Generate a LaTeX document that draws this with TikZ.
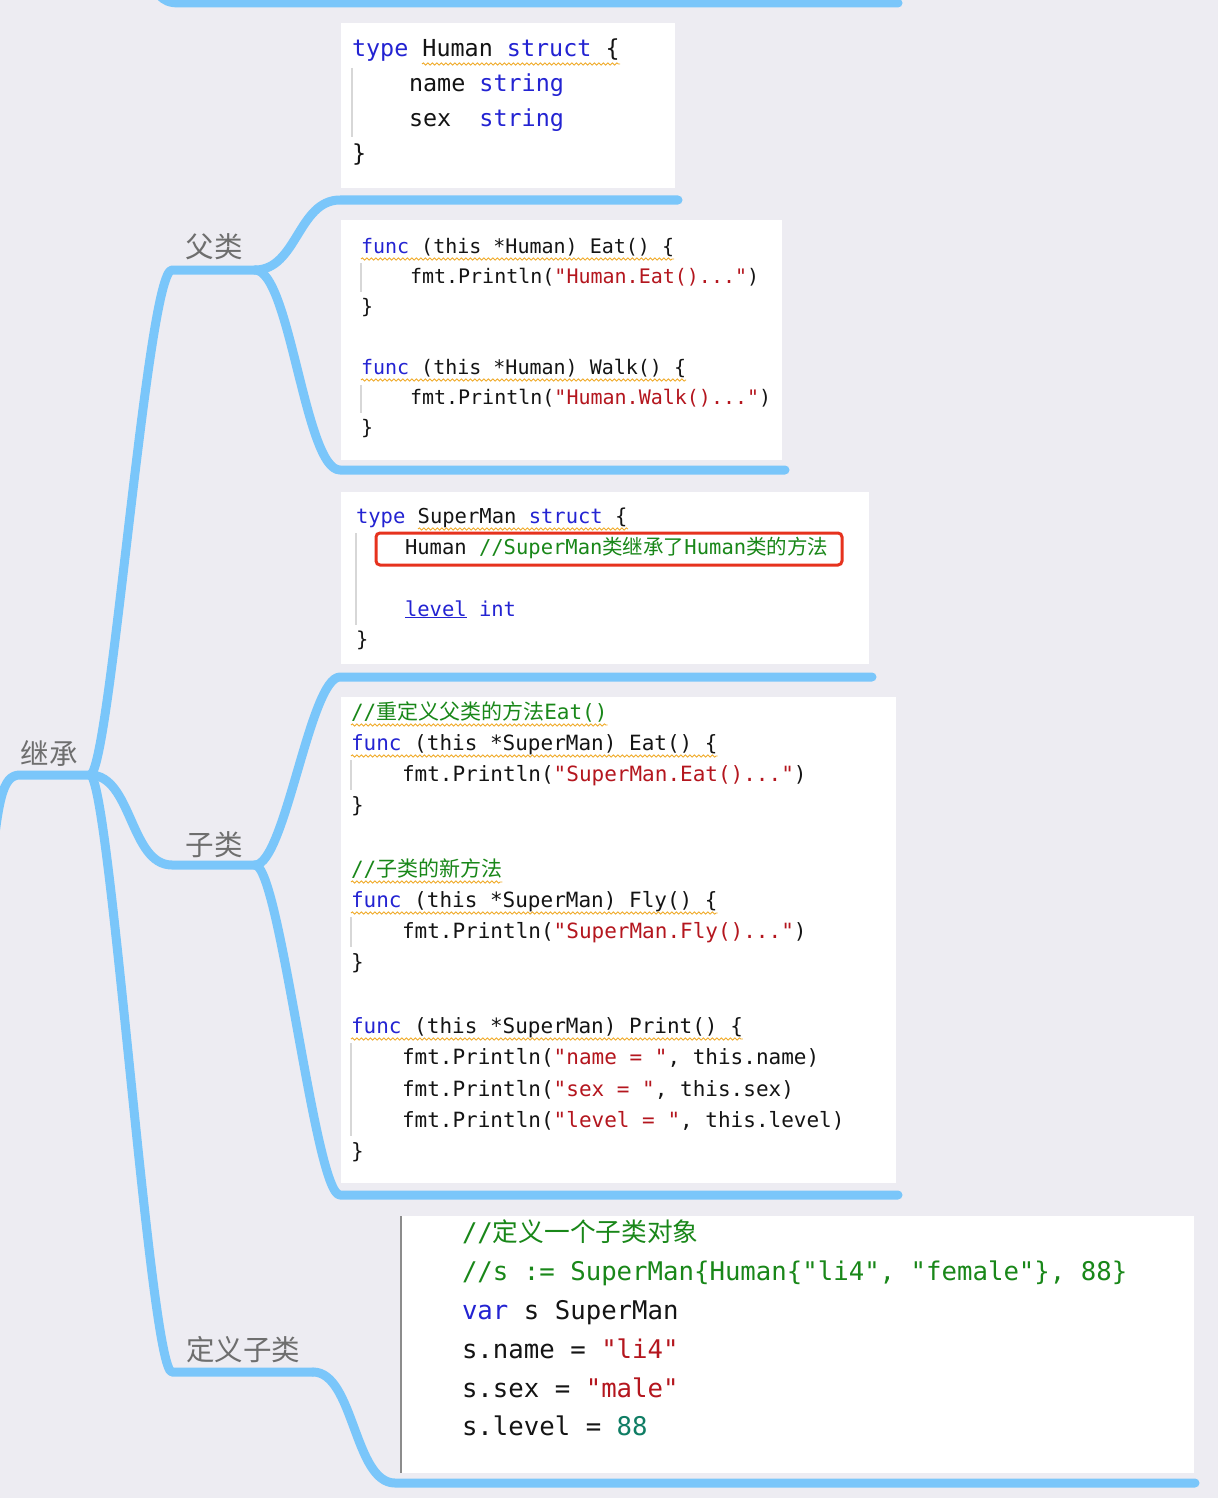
\documentclass[tikz,border=0pt]{standalone}
\usepackage{fontspec}
\usetikzlibrary{calc,decorations.pathmorphing}
\newfontfamily\mono{DejaVu Sans Mono}
\newfontfamily\cjk{Noto Sans CJK SC}
\definecolor{bg}{RGB}{237,236,242}
\definecolor{br}{RGB}{122,198,250}
\definecolor{kwc}{RGB}{35,35,210}
\definecolor{stc}{RGB}{180,22,30}
\definecolor{cmc}{RGB}{25,135,25}
\definecolor{nmc}{RGB}{15,125,100}
\definecolor{txt}{RGB}{20,20,20}
\definecolor{labc}{RGB}{110,110,110}
\definecolor{wav}{RGB}{240,170,40}
\definecolor{guide}{RGB}{215,215,215}
\definecolor{guidedark}{RGB}{140,140,140}
\definecolor{redb}{RGB}{230,50,30}
\newcommand\gokw[1]{\textcolor{kwc}{#1}}
\newcommand\gostr[1]{\textcolor{stc}{#1}}
\newcommand\gocm[1]{\textcolor{cmc}{#1}}
\newcommand\gonum[1]{\textcolor{nmc}{#1}}
\tikzset{
  branch/.style={draw=br, line width=9pt, line cap=round, line join=round},
  codebox/.style={fill=white},
  code/.style={anchor=base west, inner sep=0pt, outer sep=0pt, text=txt},
  fa/.style={code, font=\mono\fontsize{23.4}{28}\selectfont\frenchspacing},
  fb/.style={code, font=\mono\fontsize{20}{24}\selectfont\frenchspacing},
  fc/.style={code, font=\mono\fontsize{20.5}{24}\selectfont\frenchspacing},
  fd/.style={code, font=\mono\fontsize{21}{25}\selectfont\frenchspacing},
  fe/.style={code, font=\mono\fontsize{25.7}{30}\selectfont\frenchspacing},
  wavy/.style={draw=wav, line width=0.9pt, decorate, decoration={snake, amplitude=1.1pt, segment length=4.5pt}},
  guideline/.style={draw=guide, line width=1.2pt},
  lab/.style={text=labc, font=\cjk\fontsize{28.5}{31}\selectfont, inner sep=0pt},
}
\begin{document}
\begin{tikzpicture}[x=1pt,y=-1pt]
\useasboundingbox (0,0) rectangle (1218,1498);
\clip (0,0) rectangle (1218,1498);
\fill[bg] (0,0) rectangle (1218,1498);

% ---------- branch coordinates ----------
\coordinate (t0) at (150,-40);
\coordinate (tA) at (180,3);
\coordinate (tB) at (898,3);
\coordinate (r0) at (-10,880);
\coordinate (rA) at (20,775);
\coordinate (root) at (90,775);
\coordinate (fuA) at (172,270);
\coordinate (fuB) at (255,270);
\coordinate (ziA) at (172,865);
\coordinate (ziB) at (255,865);
\coordinate (dyA) at (172,1372);
\coordinate (dyB) at (313,1372);
\coordinate (h1A) at (340,200);
\coordinate (h1B) at (678,200);
\coordinate (h2A) at (340,470);
\coordinate (h2B) at (785,470);
\coordinate (s1A) at (340,677);
\coordinate (s1B) at (872,677);
\coordinate (s2A) at (340,1195);
\coordinate (s2B) at (898,1195);
\coordinate (d1A) at (395,1483);
\coordinate (d1B) at (1195,1483);

% ---------- branches ----------
\draw[branch] (t0) .. controls (155,-5) and (160,3) .. (tA) -- (tB);
\draw[branch] (r0) .. controls (-2,800) and (2,775) .. (rA) -- (root);
\draw[branch] (root) .. controls ($(root)+(20,0)$) and ($(fuA)+(-25,0)$) .. (fuA) -- (fuB);
\draw[branch] (root) .. controls ($(root)+(42,0)$) and ($(ziA)+(-42,0)$) .. (ziA) -- (ziB);
\draw[branch] (root) .. controls ($(root)+(20,0)$) and ($(dyA)+(-22,0)$) .. (dyA) -- (dyB);
\draw[branch] (fuB) .. controls ($(fuB)+(42,0)$) and ($(h1A)+(-42,0)$) .. (h1A) -- (h1B);
\draw[branch] (fuB) .. controls ($(fuB)+(35,0)$) and ($(h2A)+(-35,0)$) .. (h2A) -- (h2B);
\draw[branch] (ziB) .. controls ($(ziB)+(30,0)$) and ($(s1A)+(-30,0)$) .. (s1A) -- (s1B);
\draw[branch] (ziB) .. controls ($(ziB)+(25,0)$) and ($(s2A)+(-25,0)$) .. (s2A) -- (s2B);
\draw[branch] (dyB) .. controls ($(dyB)+(41,0)$) and ($(d1A)+(-41,0)$) .. (d1A) -- (d1B);

% ---------- labels ----------
\node[lab] (jicheng) at (49,753) {继承};
\node[lab] (fulei) at (214,247) {父类};
\node[lab] (zilei) at (214,845) {子类};
\node[lab] (dingyi) at (243,1350) {定义子类};

% ---------- boxes ----------
\fill[codebox] (341,23) rectangle (675,188);
\fill[codebox] (341,220) rectangle (782,460);
\fill[codebox] (341,492) rectangle (869,664);
\fill[codebox] (341,697) rectangle (896,1183);
\fill[codebox] (401,1216) rectangle (1194,1473);

% ---------- indent guides ----------
\draw[guideline] (352,68) -- (352,137);
\draw[guideline] (361,263) -- (361,292);
\draw[guideline] (361,385) -- (361,413);
\draw[guideline] (356,533) -- (356,625);
\draw[guideline] (351,760) -- (351,790);
\draw[guideline] (351,917) -- (351,947);
\draw[guideline] (351,1043) -- (351,1136);
\draw[draw=guidedark, line width=1.5pt] (401,1216) -- (401,1473);

% ---------- box 1 ----------
\node[fa] (b1a) at (352,57) {\gokw{type} Human \gokw{struct} \{};
\node[fa] (b1b) at (409,92) {name \gokw{string}};
\node[fa] (b1c) at (409,127) {sex\ \ \gokw{string}};
\node[fa] (b1d) at (352,162) {\}};
\draw[wavy] (422,64) -- (620,64);

% ---------- box 2 ----------
\node[fb] (b2a) at (361,253) {\gokw{func} (this *Human) Eat() \{};
\node[fb] (b2b) at (410,283) {fmt.Println(\gostr{"Human.Eat()..."})};
\node[fb] (b2c) at (361,313) {\}};
\node[fb] (b2d) at (361,374) {\gokw{func} (this *Human) Walk() \{};
\node[fb] (b2e) at (410,404) {fmt.Println(\gostr{"Human.Walk()..."})};
\node[fb] (b2f) at (361,434) {\}};
\draw[wavy] ($(b2a.base west)+(0,6)$) -- ($(b2a.base east)+(0,6)$);
\draw[wavy] ($(b2d.base west)+(0,6)$) -- ($(b2d.base east)+(0,6)$);

% ---------- box 3 ----------
\node[fc] (b3a) at (356,523) {\gokw{type} SuperMan \gokw{struct} \{};
\node[fc] (b3b) at (405,554) {Human \gocm{//SuperMan{\cjk 类继承了}Human{\cjk 类的方法}}};
\node[fc] (b3c) at (405,616) {\gokw{\underline{level}} \gokw{int}};
\node[fc] (b3d) at (356,646) {\}};
\draw[wavy] (418,529) -- (628,529);
\draw[draw=redb, line width=3pt, rounded corners=4pt] (376,533) rectangle (842,565);

% ---------- box 4 ----------
\node[fd] (b4a) at (351,719) {\gocm{//{\cjk 重定义父类的方法}Eat()}};
\node[fd] (b4b) at (351,750) {\gokw{func} (this *SuperMan) Eat() \{};
\node[fd] (b4c) at (402,781) {fmt.Println(\gostr{"SuperMan.Eat()..."})};
\node[fd] (b4d) at (351,812) {\}};
\node[fd] (b4e) at (351,876) {\gocm{//{\cjk 子类的新方法}}};
\node[fd] (b4f) at (351,907) {\gokw{func} (this *SuperMan) Fly() \{};
\node[fd] (b4g) at (402,938) {fmt.Println(\gostr{"SuperMan.Fly()..."})};
\node[fd] (b4h) at (351,969) {\}};
\node[fd] (b4i) at (351,1033) {\gokw{func} (this *SuperMan) Print() \{};
\node[fd] (b4j) at (402,1064) {fmt.Println(\gostr{"name = "}, this.name)};
\node[fd] (b4k) at (402,1096) {fmt.Println(\gostr{"sex = "}, this.sex)};
\node[fd] (b4l) at (402,1127) {fmt.Println(\gostr{"level = "}, this.level)};
\node[fd] (b4m) at (351,1158) {\}};
\draw[wavy] ($(b4a.base west)+(0,6)$) -- ($(b4a.base east)+(0,6)$);
\draw[wavy] ($(b4b.base west)+(0,6)$) -- ($(b4b.base east)+(0,6)$);
\draw[wavy] ($(b4e.base west)+(0,6)$) -- ($(b4e.base east)+(0,6)$);
\draw[wavy] ($(b4f.base west)+(0,6)$) -- ($(b4f.base east)+(0,6)$);
\draw[wavy] ($(b4i.base west)+(0,6)$) -- ($(b4i.base east)+(0,6)$);

% ---------- box 5 ----------
\node[fe] (b5a) at (462,1241) {\gocm{//{\cjk 定义一个子类对象}}};
\node[fe] (b5b) at (462,1280) {\gocm{//s := SuperMan\{Human\{"li4", "female"\}, 88\}}};
\node[fe] (b5c) at (462,1319) {\gokw{var} s SuperMan};
\node[fe] (b5d) at (462,1358) {s.name = \gostr{"li4"}};
\node[fe] (b5e) at (462,1397) {s.sex = \gostr{"male"}};
\node[fe] (b5f) at (462,1435) {s.level = \gonum{88}};
\end{tikzpicture}
\end{document}
